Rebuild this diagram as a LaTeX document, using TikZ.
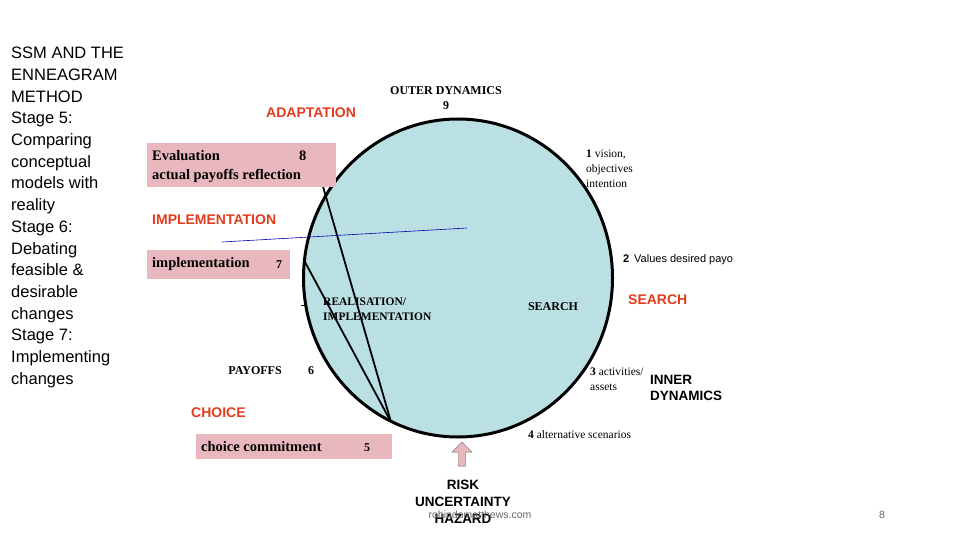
\documentclass[tikz,border=0pt]{standalone}
\usepackage{fontspec}
\setmainfont{Liberation Serif}
\setsansfont{Liberation Sans}
\usetikzlibrary{shapes.arrows,shapes.geometric}
\definecolor{pinkbox}{RGB}{232,184,190}
\definecolor{circfill}{RGB}{186,224,228}
\definecolor{redlab}{RGB}{226,60,30}
\begin{document}
\begin{tikzpicture}[x=1pt,y=-1pt,
  red/.style={font=\sffamily\bfseries\fontsize{14}{16}\selectfont,text=redlab,inner sep=0},
  ser/.style={font=\fontsize{11.5}{13}\selectfont,inner sep=0,align=left},
  serb/.style={font=\bfseries\fontsize{12}{13}\selectfont,inner sep=0,align=left},
  boxt/.style={font=\bfseries\fontsize{14.5}{16}\selectfont,inner sep=0,anchor=west},
  sans/.style={font=\sffamily\fontsize{11}{13}\selectfont,inner sep=0,align=left},
  sansb/.style={font=\sffamily\bfseries\fontsize{13.5}{16}\selectfont,inner sep=0,align=left}]
\useasboundingbox (0,0) rectangle (960,540);
\node[fill=circfill,draw=black,line width=3pt,ellipse,minimum width=309,minimum height=318,inner sep=0] (circ) at (458,278) {};
\node[anchor=north west,inner sep=0,align=left,font=\sffamily\fontsize{16.5}{21.7}\selectfont] (side) at (11,47)
 {SSM AND THE\\ENNEAGRAM\\METHOD\\Stage 5:\\Comparing\\conceptual\\models with\\reality\\Stage 6:\\Debating\\feasible \&\\desirable\\changes\\Stage 7:\\Implementing\\changes};
\coordinate (p8) at (322,183); \coordinate (p7) at (305,262); \coordinate (p5) at (391,422);
\draw[line width=1.8pt] (p8) -- (p5); \draw[line width=1.8pt] (p7) -- (p5);
\coordinate (b1) at (222,242); \coordinate (b2) at (467,228);
\draw[blue!70!black,line width=0.6pt] (b1) -- (b2);
\coordinate (t1) at (301,305); \coordinate (t2) at (305,305);
\draw (t1) -- (t2);
\node[fill=pinkbox,minimum width=189,minimum height=44,inner sep=0,anchor=north west] (eval) at (147,143) {};
\node[boxt] (evt) at (152,156) {Evaluation};
\node[boxt] (ev8) at (299,156) {8};
\node[boxt] (evr) at (152,176) {actual payoffs reflection};
\node[fill=pinkbox,minimum width=143,minimum height=29,inner sep=0,anchor=north west] (impl) at (147,250) {};
\node[boxt] (imt) at (152,264) {implementation};
\node[serb,anchor=west] (im7) at (276,265) {7};
\node[fill=pinkbox,minimum width=196,minimum height=25,inner sep=0,anchor=north west] (cho) at (196,434) {};
\node[boxt] (cht) at (201,447) {choice commitment};
\node[serb,anchor=west] (ch5) at (364,448) {5};
\node[red,anchor=west] (adap) at (266,113) {ADAPTATION};
\node[red,anchor=west] (impl2) at (152,220) {IMPLEMENTATION};
\node[red,anchor=west] (choi) at (191,413) {CHOICE};
\node[red,anchor=west] (sea) at (628,300) {SEARCH};
\node[serb] (outer) at (446,91) {OUTER DYNAMICS};
\node[serb] (n9) at (446,106) {9};
\node[ser,anchor=north west,font=\fontsize{11.5}{15}\selectfont] (v1) at (586,150) {\textbf{1} vision,\\objectives\\intention};
\node[sans,anchor=west] (v2) at (623,260) {\textbf{2}\, Values desired payo};
\node[serb,anchor=west,font=\bfseries\fontsize{11.5}{15}\selectfont] (real) at (323,309) {REALISATION/\\IMPLEMENTATION};
\node[serb] (srch) at (553,307) {SEARCH};
\node[serb] (pay) at (255,371) {PAYOFFS};
\node[serb] (p6) at (311,371) {6};
\node[ser,anchor=north west,font=\fontsize{11.5}{15}\selectfont] (v3) at (590,368) {\textbf{3} activities/\\assets};
\node[sansb,anchor=west] (inner) at (650,388) {INNER\\DYNAMICS};
\node[ser,anchor=west] (v4) at (528,435) {\textbf{4} alternative scenarios};
\node[single arrow,shape border rotate=90,fill=pinkbox,draw=black!60,minimum width=20,single arrow head extend=2,minimum height=24,inner sep=1] (arr) at (462,456) {};
\node[sansb,align=center,font=\sffamily\bfseries\fontsize{13.5}{17}\selectfont] (risk) at (463,502) {RISK\\UNCERTAINTY\\HAZARD};
\node[font=\sffamily\fontsize{10.5}{12}\selectfont,text=black!60,inner sep=0] (url) at (480,515) {robindomatthews.com};
\node[font=\sffamily\fontsize{10.5}{12}\selectfont,text=black!60,inner sep=0] (pg) at (882,515) {8};
\end{tikzpicture}
\end{document}
